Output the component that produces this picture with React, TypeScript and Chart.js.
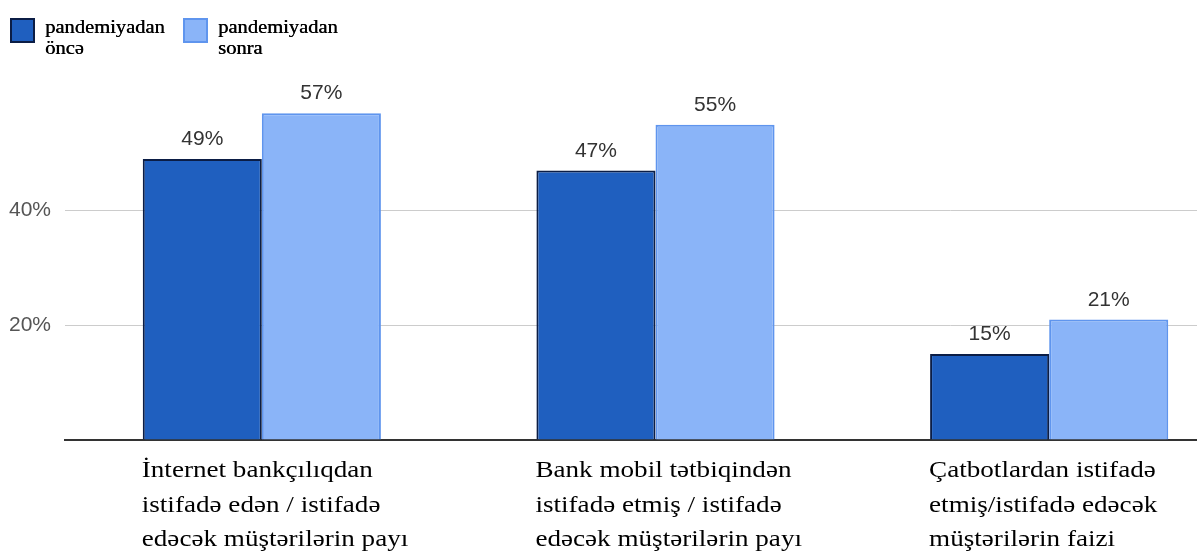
import React, { useEffect, useRef } from "react";
import { Chart, registerables } from "chart.js";

Chart.register(...registerables);

const categories: string[][] = [
  ["İnternet bankçılıqdan", "istifadə edən / istifadə", "edəcək müştərilərin payı"],
  ["Bank mobil tətbiqindən", "istifadə etmiş / istifadə", "edəcək müştərilərin payı"],
  ["Çatbotlardan istifadə", "etmiş/istifadə edəcək", "müştərilərin faizi"],
];
const seriesNames: string[][] = [
  ["pandemiyadan", "öncə"],
  ["pandemiyadan", "sonra"],
];
const beforeValues: number[] = [49, 47, 15];
const afterValues: number[] = [57, 55, 21];
const yTicks: number[] = [20, 40];

const darkFill = "#1f5fbf";
const darkBorder = "#0b1d45";
const lightFill = "#8ab4f8";
const lightBorder = "#5f95ee";

const valueLabelPlugin = {
  id: "valueLabels",
  afterDatasetsDraw(chart: any) {
    const ctx = chart.ctx;
    ctx.save();
    ctx.font = "21px 'Liberation Sans', Arial, sans-serif";
    ctx.fillStyle = "#333333";
    ctx.textAlign = "center";
    ctx.textBaseline = "alphabetic";
    chart.data.datasets.forEach((ds: any, di: number) => {
      const meta = chart.getDatasetMeta(di);
      meta.data.forEach((el: any, i: number) => {
        ctx.fillText(ds.data[i] + "%", el.x, el.y - 14);
      });
    });
    ctx.restore();
  },
};

const xLabelPlugin = {
  id: "xLabels",
  afterDraw(chart: any) {
    const ctx = chart.ctx;
    const meta = chart.getDatasetMeta(0);
    ctx.save();
    ctx.font = "24px 'Liberation Serif', 'Times New Roman', serif";
    ctx.fillStyle = "#000000";
    ctx.textAlign = "left";
    ctx.textBaseline = "alphabetic";
    const sx = 1.13;
    chart.data.labels.forEach((lines: string[], i: number) => {
      const el = meta.data[i];
      const x0 = el.x - el.width / 2 - 1;
      lines.forEach((line, li) => {
        ctx.save();
        ctx.translate(x0, 477 + li * 34.5);
        ctx.scale(sx, 1);
        ctx.fillText(line, 0, 0);
        ctx.restore();
      });
    });
    ctx.restore();
  },
};

const legendPlugin = {
  id: "customLegend",
  afterDraw(chart: any) {
    const ctx = chart.ctx;
    ctx.save();
    const items = [
      { x: 10, fill: darkFill, stroke: darkBorder, tx: 45 },
      { x: 183, fill: lightFill, stroke: lightBorder, tx: 218 },
    ];
    items.forEach((it, idx) => {
      ctx.fillStyle = it.fill;
      ctx.fillRect(it.x, 18, 25, 25);
      ctx.strokeStyle = it.stroke;
      ctx.lineWidth = 2;
      ctx.strokeRect(it.x + 1, 19, 23, 23);
      ctx.fillStyle = "#000000";
      ctx.font = "19px 'Liberation Serif', 'Times New Roman', serif";
      ctx.textAlign = "left";
      ctx.textBaseline = "alphabetic";
      seriesNames[idx].forEach((line, li) => {
        ctx.save();
        ctx.translate(it.tx, 33 + li * 21);
        ctx.scale(1.08, 1);
        ctx.fillText(line, 0, 0);
        ctx.fillText(line, 0.4, 0);
        ctx.restore();
      });
    });
    ctx.restore();
  },
};

export default function App() {
  const canvasRef = useRef<HTMLCanvasElement | null>(null);

  useEffect(() => {
    if (!canvasRef.current) return;
    const chart = new Chart(canvasRef.current, {
      type: "bar",
      data: {
        labels: categories,
        datasets: [
          {
            label: seriesNames[0].join(" "),
            data: beforeValues,
            backgroundColor: darkFill,
            borderColor: darkBorder,
            borderWidth: 2,
            categoryPercentage: 0.605,
            barPercentage: 1.0,
          },
          {
            label: seriesNames[1].join(" "),
            data: afterValues,
            backgroundColor: lightFill,
            borderColor: lightBorder,
            borderWidth: 2,
            categoryPercentage: 0.605,
            barPercentage: 1.0,
          },
        ],
      },
      options: {
        responsive: false,
        animation: false,
        devicePixelRatio: 1,
        layout: { padding: { top: 96, right: 4, left: 0, bottom: 0 } },
        plugins: {
          legend: { display: false },
          tooltip: { enabled: false },
        },
        scales: {
          x: {
            grid: { display: false, drawTicks: false },
            border: { display: true, color: "#333333", width: 2 },
            ticks: { display: false },
            afterFit: (scale: any) => {
              scale.height = 112;
              scale.paddingLeft = 0;
              scale.paddingRight = 0;
            },
          },
          y: {
            min: 0,
            max: 60,
            border: { display: false },
            grid: {
              drawTicks: false,
              color: (c: any) => (yTicks.includes(c.tick?.value) ? "#cccccc" : "rgba(0,0,0,0)"),
              lineWidth: 1,
            },
            ticks: {
              stepSize: 20,
              padding: 14,
              color: "#555555",
              font: { family: "'Liberation Sans', Arial, sans-serif", size: 21 },
              callback: (v: any) => (yTicks.includes(Number(v)) ? v + "%" : ""),
            },
            afterFit: (scale: any) => {
              scale.width = 65;
            },
          },
        },
      },
      plugins: [valueLabelPlugin, xLabelPlugin, legendPlugin],
    } as any);
    return () => chart.destroy();
  }, []);

  return (
    <div
      style={{
        position: "fixed",
        left: 0,
        top: 0,
        width: 1197,
        height: 552,
        overflow: "hidden",
        background: "#ffffff",
      }}
    >
      <canvas ref={canvasRef} width={1250} height={552} style={{ display: "block" }} />
    </div>
  );
}
